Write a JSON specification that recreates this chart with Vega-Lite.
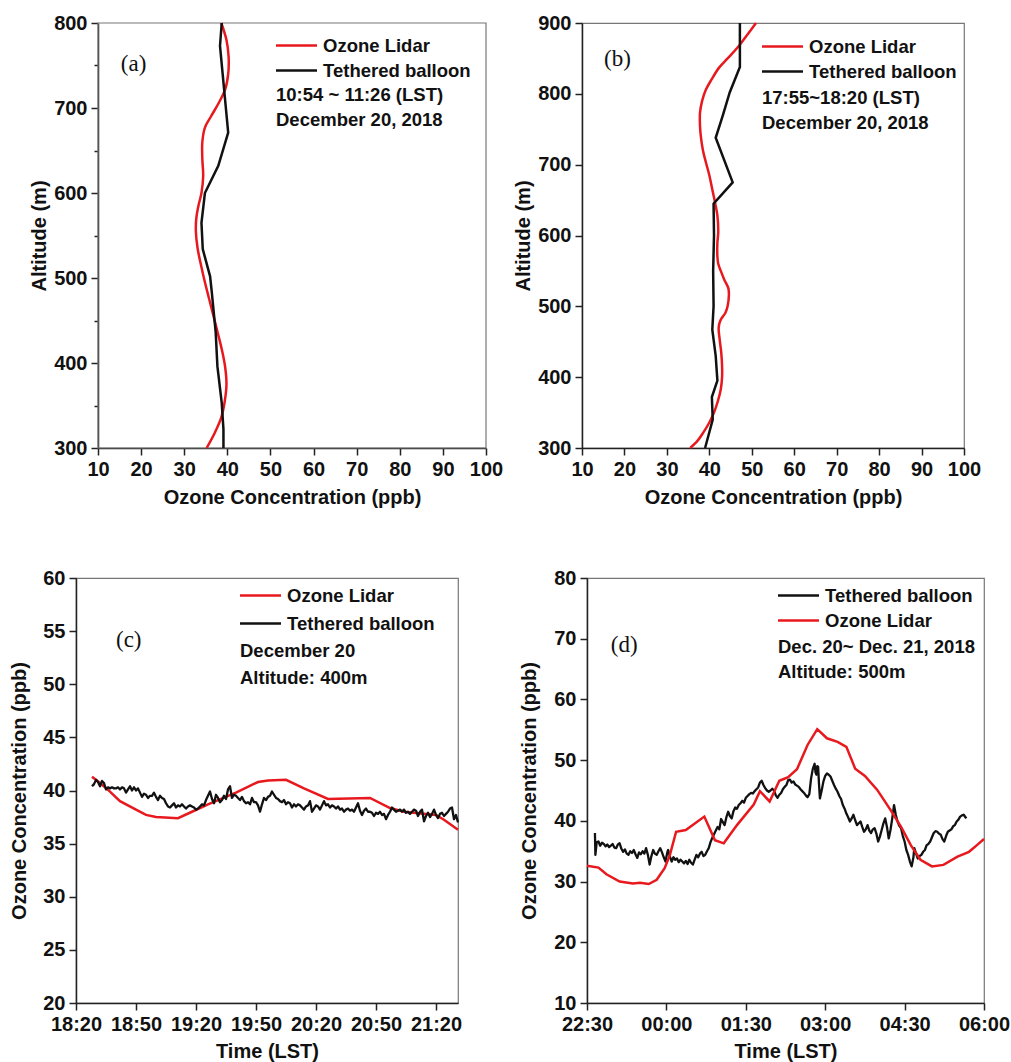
{
  "$schema": "https://vega.github.io/schema/vega-lite/v6.json",
  "background": "white",
  "padding": {"left": 9, "top": 12, "right": 2, "bottom": 2},
  "spacing": 59,
  "resolve": {"scale": {"x": "independent", "y": "independent", "color": "independent"}, "axis": {"x": "independent", "y": "independent"}, "legend": {"color": "independent"}},
  "datasets": {
    "a_lidar": [
      {"alt": 300, "o3": 35.2}, {"alt": 318, "o3": 37.1}, {"alt": 336, "o3": 38.6}, {"alt": 355, "o3": 39.4}, {"alt": 375, "o3": 39.8},
      {"alt": 395, "o3": 39.5}, {"alt": 414, "o3": 38.8}, {"alt": 435, "o3": 37.8}, {"alt": 455, "o3": 36.8}, {"alt": 475, "o3": 35.8},
      {"alt": 495, "o3": 34.8}, {"alt": 515, "o3": 33.9}, {"alt": 535, "o3": 33.1}, {"alt": 555, "o3": 32.7}, {"alt": 570, "o3": 32.8},
      {"alt": 585, "o3": 33.3}, {"alt": 600, "o3": 34.0}, {"alt": 620, "o3": 34.4}, {"alt": 640, "o3": 34.2}, {"alt": 660, "o3": 34.2},
      {"alt": 677, "o3": 34.8}, {"alt": 690, "o3": 36.2}, {"alt": 705, "o3": 37.9}, {"alt": 722, "o3": 39.5}, {"alt": 740, "o3": 40.2},
      {"alt": 760, "o3": 40.3}, {"alt": 780, "o3": 39.8}, {"alt": 800, "o3": 38.6}
    ],
    "a_balloon": [
      {"alt": 300, "o3": 39.1}, {"alt": 322, "o3": 39.1}, {"alt": 353, "o3": 38.7}, {"alt": 396, "o3": 37.7}, {"alt": 436, "o3": 37.3},
      {"alt": 483, "o3": 36.4}, {"alt": 502, "o3": 36.0}, {"alt": 534, "o3": 34.3}, {"alt": 565, "o3": 34.0}, {"alt": 600, "o3": 34.8},
      {"alt": 632, "o3": 37.9}, {"alt": 671, "o3": 40.2}, {"alt": 773, "o3": 38.3}, {"alt": 800, "o3": 38.7}
    ],
    "b_lidar": [
      {"alt": 300, "o3": 35.5}, {"alt": 310, "o3": 37.2}, {"alt": 322, "o3": 38.6}, {"alt": 336, "o3": 40.0}, {"alt": 350, "o3": 41.1},
      {"alt": 366, "o3": 42.0}, {"alt": 383, "o3": 42.7}, {"alt": 400, "o3": 43.0}, {"alt": 416, "o3": 43.0}, {"alt": 435, "o3": 42.8},
      {"alt": 455, "o3": 42.4}, {"alt": 470, "o3": 42.2}, {"alt": 480, "o3": 42.6}, {"alt": 491, "o3": 43.8}, {"alt": 500, "o3": 44.3},
      {"alt": 515, "o3": 44.6}, {"alt": 525, "o3": 44.5}, {"alt": 538, "o3": 43.5}, {"alt": 550, "o3": 42.7}, {"alt": 560, "o3": 42.1},
      {"alt": 570, "o3": 41.9}, {"alt": 590, "o3": 41.9}, {"alt": 605, "o3": 42.1}, {"alt": 628, "o3": 41.9}, {"alt": 645, "o3": 41.4},
      {"alt": 665, "o3": 40.7}, {"alt": 685, "o3": 40.0}, {"alt": 703, "o3": 39.2}, {"alt": 720, "o3": 38.5}, {"alt": 740, "o3": 38.0},
      {"alt": 755, "o3": 37.8}, {"alt": 773, "o3": 37.8}, {"alt": 790, "o3": 38.3}, {"alt": 806, "o3": 39.2}, {"alt": 820, "o3": 40.5},
      {"alt": 837, "o3": 42.3}, {"alt": 850, "o3": 44.3}, {"alt": 865, "o3": 46.6}, {"alt": 880, "o3": 48.5}, {"alt": 900, "o3": 51.0}
    ],
    "b_balloon": [
      {"alt": 300, "o3": 39.0}, {"alt": 340, "o3": 40.8}, {"alt": 372, "o3": 40.6}, {"alt": 395, "o3": 41.9}, {"alt": 430, "o3": 41.5},
      {"alt": 467, "o3": 40.7}, {"alt": 500, "o3": 41.0}, {"alt": 550, "o3": 40.9}, {"alt": 600, "o3": 41.1}, {"alt": 645, "o3": 41.0},
      {"alt": 675, "o3": 45.5}, {"alt": 738, "o3": 41.5}, {"alt": 770, "o3": 43.2}, {"alt": 802, "o3": 44.8}, {"alt": 820, "o3": 46.0},
      {"alt": 838, "o3": 47.2}, {"alt": 900, "o3": 47.2}
    ],
    "c_lidar": [
      {"time": "2018-12-20T18:28", "o3": 41.3}, {"time": "2018-12-20T18:32", "o3": 40.7}, {"time": "2018-12-20T18:37", "o3": 39.9},
      {"time": "2018-12-20T18:42", "o3": 39.0}, {"time": "2018-12-20T18:50", "o3": 38.2}, {"time": "2018-12-20T18:55", "o3": 37.7},
      {"time": "2018-12-20T19:00", "o3": 37.5}, {"time": "2018-12-20T19:11", "o3": 37.4}, {"time": "2018-12-20T19:18", "o3": 38.0},
      {"time": "2018-12-20T19:26", "o3": 38.7}, {"time": "2018-12-20T19:40", "o3": 39.8}, {"time": "2018-12-20T19:51", "o3": 40.8},
      {"time": "2018-12-20T19:56", "o3": 40.95}, {"time": "2018-12-20T20:05", "o3": 41.0}, {"time": "2018-12-20T20:14", "o3": 40.2},
      {"time": "2018-12-20T20:26", "o3": 39.2}, {"time": "2018-12-20T20:47", "o3": 39.3}, {"time": "2018-12-20T20:57", "o3": 38.35},
      {"time": "2018-12-20T21:04", "o3": 38.0}, {"time": "2018-12-20T21:20", "o3": 37.7}, {"time": "2018-12-20T21:24", "o3": 37.25},
      {"time": "2018-12-20T21:31", "o3": 36.3}
    ],
    "c_balloon": [
      {"time": "2018-12-20T18:28", "o3": 40.4}, {"time": "2018-12-20T18:29", "o3": 40.6}, {"time": "2018-12-20T18:30", "o3": 41.0},
      {"time": "2018-12-20T18:31", "o3": 40.8}, {"time": "2018-12-20T18:32", "o3": 40.4}, {"time": "2018-12-20T18:33", "o3": 40.9},
      {"time": "2018-12-20T18:34", "o3": 40.7}, {"time": "2018-12-20T18:35", "o3": 40.1}, {"time": "2018-12-20T18:36", "o3": 40.3},
      {"time": "2018-12-20T18:37", "o3": 40.2}, {"time": "2018-12-20T18:38", "o3": 40.3}, {"time": "2018-12-20T18:39", "o3": 40.2},
      {"time": "2018-12-20T18:40", "o3": 40.2}, {"time": "2018-12-20T18:41", "o3": 40.3}, {"time": "2018-12-20T18:42", "o3": 40.1},
      {"time": "2018-12-20T18:43", "o3": 40.3}, {"time": "2018-12-20T18:44", "o3": 40.2}, {"time": "2018-12-20T18:45", "o3": 39.8},
      {"time": "2018-12-20T18:46", "o3": 40.1}, {"time": "2018-12-20T18:47", "o3": 40.4}, {"time": "2018-12-20T18:48", "o3": 40.0},
      {"time": "2018-12-20T18:49", "o3": 40.3}, {"time": "2018-12-20T18:50", "o3": 40.0}, {"time": "2018-12-20T18:51", "o3": 40.2},
      {"time": "2018-12-20T18:52", "o3": 39.8}, {"time": "2018-12-20T18:53", "o3": 39.4}, {"time": "2018-12-20T18:54", "o3": 39.7},
      {"time": "2018-12-20T18:55", "o3": 39.6}, {"time": "2018-12-20T18:56", "o3": 39.3}, {"time": "2018-12-20T18:57", "o3": 39.5},
      {"time": "2018-12-20T18:58", "o3": 39.5}, {"time": "2018-12-20T18:59", "o3": 39.8}, {"time": "2018-12-20T19:00", "o3": 39.4},
      {"time": "2018-12-20T19:01", "o3": 39.1}, {"time": "2018-12-20T19:02", "o3": 39.5}, {"time": "2018-12-20T19:03", "o3": 39.3},
      {"time": "2018-12-20T19:04", "o3": 39.2}, {"time": "2018-12-20T19:05", "o3": 38.8}, {"time": "2018-12-20T19:06", "o3": 38.5},
      {"time": "2018-12-20T19:07", "o3": 38.4}, {"time": "2018-12-20T19:08", "o3": 38.6}, {"time": "2018-12-20T19:09", "o3": 38.8},
      {"time": "2018-12-20T19:10", "o3": 38.4}, {"time": "2018-12-20T19:11", "o3": 38.6}, {"time": "2018-12-20T19:12", "o3": 38.5},
      {"time": "2018-12-20T19:13", "o3": 38.7}, {"time": "2018-12-20T19:14", "o3": 38.5}, {"time": "2018-12-20T19:15", "o3": 38.3},
      {"time": "2018-12-20T19:16", "o3": 38.5}, {"time": "2018-12-20T19:17", "o3": 38.6}, {"time": "2018-12-20T19:18", "o3": 38.5},
      {"time": "2018-12-20T19:19", "o3": 38.4}, {"time": "2018-12-20T19:20", "o3": 38.2}, {"time": "2018-12-20T19:21", "o3": 38.3},
      {"time": "2018-12-20T19:22", "o3": 38.5}, {"time": "2018-12-20T19:23", "o3": 38.7}, {"time": "2018-12-20T19:24", "o3": 38.6},
      {"time": "2018-12-20T19:25", "o3": 39.1}, {"time": "2018-12-20T19:26", "o3": 39.5}, {"time": "2018-12-20T19:27", "o3": 39.9},
      {"time": "2018-12-20T19:28", "o3": 39.2}, {"time": "2018-12-20T19:29", "o3": 38.8}, {"time": "2018-12-20T19:30", "o3": 39.6},
      {"time": "2018-12-20T19:31", "o3": 39.3}, {"time": "2018-12-20T19:32", "o3": 38.9}, {"time": "2018-12-20T19:33", "o3": 39.1},
      {"time": "2018-12-20T19:34", "o3": 39.5}, {"time": "2018-12-20T19:35", "o3": 39.2}, {"time": "2018-12-20T19:36", "o3": 40.1},
      {"time": "2018-12-20T19:37", "o3": 40.4}, {"time": "2018-12-20T19:38", "o3": 39.3}, {"time": "2018-12-20T19:39", "o3": 39.6},
      {"time": "2018-12-20T19:40", "o3": 39.5}, {"time": "2018-12-20T19:41", "o3": 39.3}, {"time": "2018-12-20T19:42", "o3": 39.1},
      {"time": "2018-12-20T19:43", "o3": 39.4}, {"time": "2018-12-20T19:44", "o3": 39.0}, {"time": "2018-12-20T19:45", "o3": 38.8},
      {"time": "2018-12-20T19:46", "o3": 38.9}, {"time": "2018-12-20T19:47", "o3": 38.7}, {"time": "2018-12-20T19:48", "o3": 39.3},
      {"time": "2018-12-20T19:49", "o3": 38.9}, {"time": "2018-12-20T19:50", "o3": 38.9}, {"time": "2018-12-20T19:51", "o3": 38.6},
      {"time": "2018-12-20T19:52", "o3": 38.0}, {"time": "2018-12-20T19:53", "o3": 38.7}, {"time": "2018-12-20T19:54", "o3": 39.3},
      {"time": "2018-12-20T19:55", "o3": 39.1}, {"time": "2018-12-20T19:56", "o3": 39.4}, {"time": "2018-12-20T19:57", "o3": 39.5},
      {"time": "2018-12-20T19:58", "o3": 39.9}, {"time": "2018-12-20T19:59", "o3": 39.6}, {"time": "2018-12-20T20:00", "o3": 39.3},
      {"time": "2018-12-20T20:01", "o3": 39.2}, {"time": "2018-12-20T20:02", "o3": 39.0}, {"time": "2018-12-20T20:03", "o3": 38.9},
      {"time": "2018-12-20T20:04", "o3": 39.1}, {"time": "2018-12-20T20:05", "o3": 38.7}, {"time": "2018-12-20T20:06", "o3": 38.9},
      {"time": "2018-12-20T20:07", "o3": 38.8}, {"time": "2018-12-20T20:08", "o3": 38.4}, {"time": "2018-12-20T20:09", "o3": 38.7},
      {"time": "2018-12-20T20:10", "o3": 38.5}, {"time": "2018-12-20T20:11", "o3": 38.7}, {"time": "2018-12-20T20:12", "o3": 38.6},
      {"time": "2018-12-20T20:13", "o3": 38.4}, {"time": "2018-12-20T20:14", "o3": 38.2}, {"time": "2018-12-20T20:15", "o3": 38.5},
      {"time": "2018-12-20T20:16", "o3": 38.6}, {"time": "2018-12-20T20:17", "o3": 39.0}, {"time": "2018-12-20T20:18", "o3": 38.0},
      {"time": "2018-12-20T20:19", "o3": 38.3}, {"time": "2018-12-20T20:20", "o3": 38.6}, {"time": "2018-12-20T20:21", "o3": 38.5},
      {"time": "2018-12-20T20:22", "o3": 38.2}, {"time": "2018-12-20T20:23", "o3": 38.6}, {"time": "2018-12-20T20:24", "o3": 39.0},
      {"time": "2018-12-20T20:25", "o3": 38.6}, {"time": "2018-12-20T20:26", "o3": 38.7}, {"time": "2018-12-20T20:27", "o3": 38.4},
      {"time": "2018-12-20T20:28", "o3": 38.6}, {"time": "2018-12-20T20:29", "o3": 38.5}, {"time": "2018-12-20T20:30", "o3": 38.3},
      {"time": "2018-12-20T20:31", "o3": 38.5}, {"time": "2018-12-20T20:32", "o3": 38.2}, {"time": "2018-12-20T20:33", "o3": 38.3},
      {"time": "2018-12-20T20:34", "o3": 38.0}, {"time": "2018-12-20T20:35", "o3": 38.2}, {"time": "2018-12-20T20:36", "o3": 38.3},
      {"time": "2018-12-20T20:37", "o3": 38.1}, {"time": "2018-12-20T20:38", "o3": 38.2}, {"time": "2018-12-20T20:39", "o3": 38.0},
      {"time": "2018-12-20T20:40", "o3": 38.4}, {"time": "2018-12-20T20:41", "o3": 38.8}, {"time": "2018-12-20T20:42", "o3": 38.1},
      {"time": "2018-12-20T20:43", "o3": 37.7}, {"time": "2018-12-20T20:44", "o3": 38.1}, {"time": "2018-12-20T20:45", "o3": 38.3},
      {"time": "2018-12-20T20:46", "o3": 38.0}, {"time": "2018-12-20T20:47", "o3": 38.0}, {"time": "2018-12-20T20:48", "o3": 37.9},
      {"time": "2018-12-20T20:49", "o3": 37.6}, {"time": "2018-12-20T20:50", "o3": 37.9}, {"time": "2018-12-20T20:51", "o3": 37.8},
      {"time": "2018-12-20T20:52", "o3": 38.0}, {"time": "2018-12-20T20:53", "o3": 37.7}, {"time": "2018-12-20T20:54", "o3": 37.8},
      {"time": "2018-12-20T20:55", "o3": 37.3}, {"time": "2018-12-20T20:56", "o3": 37.7}, {"time": "2018-12-20T20:57", "o3": 38.0},
      {"time": "2018-12-20T20:58", "o3": 38.4}, {"time": "2018-12-20T20:59", "o3": 38.2}, {"time": "2018-12-20T21:00", "o3": 38.0},
      {"time": "2018-12-20T21:01", "o3": 38.1}, {"time": "2018-12-20T21:02", "o3": 38.2}, {"time": "2018-12-20T21:03", "o3": 38.0},
      {"time": "2018-12-20T21:04", "o3": 38.2}, {"time": "2018-12-20T21:05", "o3": 37.9}, {"time": "2018-12-20T21:06", "o3": 38.0},
      {"time": "2018-12-20T21:07", "o3": 37.8}, {"time": "2018-12-20T21:08", "o3": 38.0}, {"time": "2018-12-20T21:09", "o3": 38.2},
      {"time": "2018-12-20T21:10", "o3": 38.1}, {"time": "2018-12-20T21:11", "o3": 37.6}, {"time": "2018-12-20T21:12", "o3": 38.0},
      {"time": "2018-12-20T21:13", "o3": 38.2}, {"time": "2018-12-20T21:14", "o3": 37.1}, {"time": "2018-12-20T21:15", "o3": 37.6},
      {"time": "2018-12-20T21:16", "o3": 37.9}, {"time": "2018-12-20T21:17", "o3": 37.5}, {"time": "2018-12-20T21:18", "o3": 37.8},
      {"time": "2018-12-20T21:19", "o3": 38.2}, {"time": "2018-12-20T21:20", "o3": 37.7}, {"time": "2018-12-20T21:21", "o3": 37.4},
      {"time": "2018-12-20T21:22", "o3": 37.8}, {"time": "2018-12-20T21:23", "o3": 37.9}, {"time": "2018-12-20T21:24", "o3": 37.6},
      {"time": "2018-12-20T21:25", "o3": 37.8}, {"time": "2018-12-20T21:26", "o3": 38.0}, {"time": "2018-12-20T21:27", "o3": 38.3},
      {"time": "2018-12-20T21:28", "o3": 38.4}, {"time": "2018-12-20T21:29", "o3": 37.3}, {"time": "2018-12-20T21:30", "o3": 37.7},
      {"time": "2018-12-20T21:31", "o3": 37.0}
    ],
    "d_lidar": [
      {"time": "2018-12-20T22:30", "o3": 32.6}, {"time": "2018-12-20T22:43", "o3": 32.3}, {"time": "2018-12-20T22:52", "o3": 31.2},
      {"time": "2018-12-20T23:07", "o3": 30.0}, {"time": "2018-12-20T23:22", "o3": 29.7}, {"time": "2018-12-20T23:30", "o3": 29.8},
      {"time": "2018-12-20T23:40", "o3": 29.6}, {"time": "2018-12-20T23:49", "o3": 30.3}, {"time": "2018-12-20T23:58", "o3": 32.2},
      {"time": "2018-12-21T00:04", "o3": 34.4}, {"time": "2018-12-21T00:11", "o3": 38.2}, {"time": "2018-12-21T00:22", "o3": 38.5},
      {"time": "2018-12-21T00:43", "o3": 40.7}, {"time": "2018-12-21T00:55", "o3": 36.8}, {"time": "2018-12-21T01:05", "o3": 36.3},
      {"time": "2018-12-21T01:20", "o3": 39.3}, {"time": "2018-12-21T01:39", "o3": 42.7}, {"time": "2018-12-21T01:46", "o3": 44.9},
      {"time": "2018-12-21T01:57", "o3": 43.2}, {"time": "2018-12-21T02:08", "o3": 46.6}, {"time": "2018-12-21T02:18", "o3": 47.2},
      {"time": "2018-12-21T02:28", "o3": 48.5}, {"time": "2018-12-21T02:40", "o3": 52.5}, {"time": "2018-12-21T02:51", "o3": 55.1},
      {"time": "2018-12-21T03:02", "o3": 53.6}, {"time": "2018-12-21T03:14", "o3": 53.0}, {"time": "2018-12-21T03:24", "o3": 52.2},
      {"time": "2018-12-21T03:34", "o3": 48.6}, {"time": "2018-12-21T03:45", "o3": 47.4}, {"time": "2018-12-21T03:59", "o3": 45.1},
      {"time": "2018-12-21T04:14", "o3": 41.8}, {"time": "2018-12-21T04:26", "o3": 39.0}, {"time": "2018-12-21T04:37", "o3": 36.0},
      {"time": "2018-12-21T04:48", "o3": 33.6}, {"time": "2018-12-21T05:01", "o3": 32.5}, {"time": "2018-12-21T05:14", "o3": 32.75},
      {"time": "2018-12-21T05:30", "o3": 34.1}, {"time": "2018-12-21T05:43", "o3": 34.9}, {"time": "2018-12-21T05:52", "o3": 36.0},
      {"time": "2018-12-21T06:00", "o3": 37.0}
    ],
    "d_balloon": [
      {"time": "2018-12-20T22:39:00", "o3": 38.0}, {"time": "2018-12-20T22:39:30", "o3": 34.4}, {"time": "2018-12-20T22:41", "o3": 36.5},
      {"time": "2018-12-20T22:43", "o3": 36.6}, {"time": "2018-12-20T22:45", "o3": 35.9}, {"time": "2018-12-20T22:47", "o3": 36.4},
      {"time": "2018-12-20T22:49", "o3": 36.2}, {"time": "2018-12-20T22:51", "o3": 35.8}, {"time": "2018-12-20T22:53", "o3": 36.1},
      {"time": "2018-12-20T22:55", "o3": 35.7}, {"time": "2018-12-20T22:57", "o3": 35.9}, {"time": "2018-12-20T22:59", "o3": 36.2},
      {"time": "2018-12-20T23:01", "o3": 35.6}, {"time": "2018-12-20T23:03", "o3": 35.5}, {"time": "2018-12-20T23:05", "o3": 36.1},
      {"time": "2018-12-20T23:07", "o3": 36.3}, {"time": "2018-12-20T23:09", "o3": 35.4}, {"time": "2018-12-20T23:11", "o3": 34.9},
      {"time": "2018-12-20T23:13", "o3": 35.3}, {"time": "2018-12-20T23:15", "o3": 34.6}, {"time": "2018-12-20T23:17", "o3": 34.4},
      {"time": "2018-12-20T23:19", "o3": 35.0}, {"time": "2018-12-20T23:21", "o3": 34.7}, {"time": "2018-12-20T23:23", "o3": 35.2},
      {"time": "2018-12-20T23:25", "o3": 34.5}, {"time": "2018-12-20T23:27", "o3": 33.9}, {"time": "2018-12-20T23:29", "o3": 34.8},
      {"time": "2018-12-20T23:31", "o3": 34.5}, {"time": "2018-12-20T23:33", "o3": 35.0}, {"time": "2018-12-20T23:35", "o3": 34.6},
      {"time": "2018-12-20T23:37", "o3": 35.5}, {"time": "2018-12-20T23:39", "o3": 34.4}, {"time": "2018-12-20T23:41", "o3": 32.8},
      {"time": "2018-12-20T23:43", "o3": 34.2}, {"time": "2018-12-20T23:45", "o3": 35.2}, {"time": "2018-12-20T23:47", "o3": 34.6},
      {"time": "2018-12-20T23:49", "o3": 34.4}, {"time": "2018-12-20T23:51", "o3": 35.0}, {"time": "2018-12-20T23:53", "o3": 35.5},
      {"time": "2018-12-20T23:55", "o3": 34.8}, {"time": "2018-12-20T23:57", "o3": 34.0}, {"time": "2018-12-20T23:59", "o3": 33.3},
      {"time": "2018-12-21T00:01", "o3": 34.8}, {"time": "2018-12-21T00:02", "o3": 35.2}, {"time": "2018-12-21T00:04", "o3": 34.1},
      {"time": "2018-12-21T00:06", "o3": 33.3}, {"time": "2018-12-21T00:08", "o3": 34.0}, {"time": "2018-12-21T00:10", "o3": 33.6},
      {"time": "2018-12-21T00:12", "o3": 33.8}, {"time": "2018-12-21T00:14", "o3": 33.2}, {"time": "2018-12-21T00:16", "o3": 33.6},
      {"time": "2018-12-21T00:18", "o3": 33.3}, {"time": "2018-12-21T00:20", "o3": 33.0}, {"time": "2018-12-21T00:22", "o3": 33.4},
      {"time": "2018-12-21T00:24", "o3": 32.9}, {"time": "2018-12-21T00:26", "o3": 33.6}, {"time": "2018-12-21T00:28", "o3": 33.1},
      {"time": "2018-12-21T00:30", "o3": 32.8}, {"time": "2018-12-21T00:32", "o3": 33.6}, {"time": "2018-12-21T00:34", "o3": 34.4},
      {"time": "2018-12-21T00:36", "o3": 34.0}, {"time": "2018-12-21T00:38", "o3": 34.6}, {"time": "2018-12-21T00:40", "o3": 34.9},
      {"time": "2018-12-21T00:42", "o3": 34.2}, {"time": "2018-12-21T00:44", "o3": 34.4}, {"time": "2018-12-21T00:46", "o3": 35.0},
      {"time": "2018-12-21T00:48", "o3": 35.5}, {"time": "2018-12-21T00:50", "o3": 36.5}, {"time": "2018-12-21T00:52", "o3": 37.2},
      {"time": "2018-12-21T00:54", "o3": 37.8}, {"time": "2018-12-21T00:56", "o3": 38.4}, {"time": "2018-12-21T00:58", "o3": 39.0},
      {"time": "2018-12-21T01:00", "o3": 38.6}, {"time": "2018-12-21T01:02", "o3": 40.3}, {"time": "2018-12-21T01:04", "o3": 39.8},
      {"time": "2018-12-21T01:06", "o3": 39.3}, {"time": "2018-12-21T01:08", "o3": 40.6}, {"time": "2018-12-21T01:10", "o3": 41.5},
      {"time": "2018-12-21T01:12", "o3": 40.8}, {"time": "2018-12-21T01:14", "o3": 40.4}, {"time": "2018-12-21T01:16", "o3": 41.6},
      {"time": "2018-12-21T01:18", "o3": 42.2}, {"time": "2018-12-21T01:20", "o3": 42.0}, {"time": "2018-12-21T01:22", "o3": 42.6},
      {"time": "2018-12-21T01:24", "o3": 42.9}, {"time": "2018-12-21T01:26", "o3": 43.3}, {"time": "2018-12-21T01:28", "o3": 43.0},
      {"time": "2018-12-21T01:30", "o3": 43.8}, {"time": "2018-12-21T01:32", "o3": 44.1}, {"time": "2018-12-21T01:34", "o3": 44.4},
      {"time": "2018-12-21T01:36", "o3": 44.6}, {"time": "2018-12-21T01:38", "o3": 44.5}, {"time": "2018-12-21T01:40", "o3": 44.9},
      {"time": "2018-12-21T01:42", "o3": 45.2}, {"time": "2018-12-21T01:44", "o3": 45.5}, {"time": "2018-12-21T01:46", "o3": 46.3},
      {"time": "2018-12-21T01:48", "o3": 46.6}, {"time": "2018-12-21T01:50", "o3": 45.9}, {"time": "2018-12-21T01:52", "o3": 45.4},
      {"time": "2018-12-21T01:54", "o3": 45.0}, {"time": "2018-12-21T01:56", "o3": 44.8}, {"time": "2018-12-21T01:58", "o3": 45.0},
      {"time": "2018-12-21T02:00", "o3": 45.3}, {"time": "2018-12-21T02:02", "o3": 45.0}, {"time": "2018-12-21T02:04", "o3": 44.2},
      {"time": "2018-12-21T02:06", "o3": 43.8}, {"time": "2018-12-21T02:08", "o3": 44.3}, {"time": "2018-12-21T02:10", "o3": 44.6},
      {"time": "2018-12-21T02:12", "o3": 45.2}, {"time": "2018-12-21T02:14", "o3": 45.6}, {"time": "2018-12-21T02:16", "o3": 45.9},
      {"time": "2018-12-21T02:18", "o3": 46.7}, {"time": "2018-12-21T02:20", "o3": 46.8}, {"time": "2018-12-21T02:22", "o3": 46.3},
      {"time": "2018-12-21T02:24", "o3": 46.5}, {"time": "2018-12-21T02:26", "o3": 46.0}, {"time": "2018-12-21T02:28", "o3": 45.8},
      {"time": "2018-12-21T02:30", "o3": 45.6}, {"time": "2018-12-21T02:32", "o3": 45.2}, {"time": "2018-12-21T02:34", "o3": 44.9},
      {"time": "2018-12-21T02:36", "o3": 44.6}, {"time": "2018-12-21T02:38", "o3": 44.2}, {"time": "2018-12-21T02:40", "o3": 43.9},
      {"time": "2018-12-21T02:42", "o3": 44.4}, {"time": "2018-12-21T02:44", "o3": 47.0}, {"time": "2018-12-21T02:46", "o3": 48.6},
      {"time": "2018-12-21T02:48", "o3": 49.4}, {"time": "2018-12-21T02:49", "o3": 48.0}, {"time": "2018-12-21T02:50", "o3": 47.6},
      {"time": "2018-12-21T02:51", "o3": 49.0}, {"time": "2018-12-21T02:52", "o3": 48.9}, {"time": "2018-12-21T02:53", "o3": 46.0},
      {"time": "2018-12-21T02:54", "o3": 43.7}, {"time": "2018-12-21T02:56", "o3": 45.0}, {"time": "2018-12-21T02:58", "o3": 46.5},
      {"time": "2018-12-21T03:00", "o3": 47.4}, {"time": "2018-12-21T03:02", "o3": 47.8}, {"time": "2018-12-21T03:04", "o3": 47.6},
      {"time": "2018-12-21T03:06", "o3": 47.3}, {"time": "2018-12-21T03:08", "o3": 46.6}, {"time": "2018-12-21T03:10", "o3": 45.9},
      {"time": "2018-12-21T03:12", "o3": 45.3}, {"time": "2018-12-21T03:14", "o3": 44.8}, {"time": "2018-12-21T03:16", "o3": 44.1},
      {"time": "2018-12-21T03:18", "o3": 43.6}, {"time": "2018-12-21T03:20", "o3": 42.6}, {"time": "2018-12-21T03:22", "o3": 42.0},
      {"time": "2018-12-21T03:24", "o3": 41.2}, {"time": "2018-12-21T03:26", "o3": 40.6}, {"time": "2018-12-21T03:28", "o3": 39.9},
      {"time": "2018-12-21T03:30", "o3": 40.4}, {"time": "2018-12-21T03:32", "o3": 41.0}, {"time": "2018-12-21T03:34", "o3": 40.1},
      {"time": "2018-12-21T03:36", "o3": 39.3}, {"time": "2018-12-21T03:38", "o3": 39.6}, {"time": "2018-12-21T03:40", "o3": 39.9},
      {"time": "2018-12-21T03:42", "o3": 39.0}, {"time": "2018-12-21T03:44", "o3": 38.2}, {"time": "2018-12-21T03:46", "o3": 38.6},
      {"time": "2018-12-21T03:48", "o3": 39.3}, {"time": "2018-12-21T03:50", "o3": 38.4}, {"time": "2018-12-21T03:52", "o3": 38.0},
      {"time": "2018-12-21T03:54", "o3": 38.6}, {"time": "2018-12-21T03:56", "o3": 38.8}, {"time": "2018-12-21T03:58", "o3": 37.9},
      {"time": "2018-12-21T04:00", "o3": 36.6}, {"time": "2018-12-21T04:02", "o3": 37.4}, {"time": "2018-12-21T04:04", "o3": 38.5},
      {"time": "2018-12-21T04:06", "o3": 39.6}, {"time": "2018-12-21T04:08", "o3": 40.4}, {"time": "2018-12-21T04:10", "o3": 39.0},
      {"time": "2018-12-21T04:12", "o3": 37.1}, {"time": "2018-12-21T04:14", "o3": 38.5}, {"time": "2018-12-21T04:16", "o3": 40.4},
      {"time": "2018-12-21T04:18", "o3": 42.6}, {"time": "2018-12-21T04:20", "o3": 41.0}, {"time": "2018-12-21T04:22", "o3": 39.9},
      {"time": "2018-12-21T04:24", "o3": 39.2}, {"time": "2018-12-21T04:26", "o3": 38.8}, {"time": "2018-12-21T04:28", "o3": 37.5},
      {"time": "2018-12-21T04:30", "o3": 36.6}, {"time": "2018-12-21T04:32", "o3": 35.2}, {"time": "2018-12-21T04:34", "o3": 34.4},
      {"time": "2018-12-21T04:36", "o3": 33.3}, {"time": "2018-12-21T04:38", "o3": 32.5}, {"time": "2018-12-21T04:40", "o3": 34.0},
      {"time": "2018-12-21T04:41", "o3": 35.5}, {"time": "2018-12-21T04:43", "o3": 34.6}, {"time": "2018-12-21T04:45", "o3": 33.8},
      {"time": "2018-12-21T04:47", "o3": 34.2}, {"time": "2018-12-21T04:49", "o3": 34.4}, {"time": "2018-12-21T04:51", "o3": 34.9},
      {"time": "2018-12-21T04:53", "o3": 35.2}, {"time": "2018-12-21T04:55", "o3": 36.0}, {"time": "2018-12-21T04:57", "o3": 36.2},
      {"time": "2018-12-21T04:59", "o3": 36.6}, {"time": "2018-12-21T05:01", "o3": 37.3}, {"time": "2018-12-21T05:03", "o3": 38.0},
      {"time": "2018-12-21T05:05", "o3": 38.3}, {"time": "2018-12-21T05:07", "o3": 38.2}, {"time": "2018-12-21T05:09", "o3": 37.9},
      {"time": "2018-12-21T05:11", "o3": 37.7}, {"time": "2018-12-21T05:13", "o3": 37.0}, {"time": "2018-12-21T05:15", "o3": 36.6},
      {"time": "2018-12-21T05:17", "o3": 37.5}, {"time": "2018-12-21T05:19", "o3": 38.2}, {"time": "2018-12-21T05:21", "o3": 38.4},
      {"time": "2018-12-21T05:23", "o3": 38.6}, {"time": "2018-12-21T05:25", "o3": 39.1}, {"time": "2018-12-21T05:27", "o3": 39.3},
      {"time": "2018-12-21T05:29", "o3": 39.9}, {"time": "2018-12-21T05:31", "o3": 40.2}, {"time": "2018-12-21T05:33", "o3": 40.7},
      {"time": "2018-12-21T05:35", "o3": 40.9}, {"time": "2018-12-21T05:37", "o3": 41.0}, {"time": "2018-12-21T05:39", "o3": 40.6},
      {"time": "2018-12-21T05:40", "o3": 40.4}
    ]
  },
  "vconcat": [
    {
      "spacing": 10,
      "resolve": {"scale": {"x": "independent", "y": "independent", "color": "independent"}, "axis": {"x": "independent", "y": "independent"}, "legend": {"color": "independent"}},
      "hconcat": [
        {
          "width": 410, "height": 425,
          "view": {"stroke": null},
          "layer": [
            {
              "data": {"values": [{}]},
              "mark": {"type": "rect", "fillOpacity": 0, "stroke": "#777777", "strokeWidth": 1.2},
              "encoding": {
                "x": {"datum": 10, "type": "quantitative", "title": "Ozone Concentration (ppb)",
                      "scale": {"domain": [10, 100], "range": [22, 410], "nice": false},
                      "axis": {"values": [10,15,20,25,30,35,40,45,50,55,60,65,70,75,80,85,90,95,100], "labelExpr": "datum.value % 10 === 0 ? datum.label : ''", "tickSize": {"condition": {"test": "datum.value % 10 === 0", "value": 7}, "value": 4}, "titlePadding": 8}},
                "x2": {"datum": 100},
                "y": {"datum": 300, "type": "quantitative", "title": "Altitude (m)",
                      "scale": {"domain": [300, 800], "nice": false},
                      "axis": {"offset": -22, "values": [300,350,400,450,500,550,600,650,700,750,800], "labelExpr": "datum.value % 100 === 0 ? datum.label : ''", "tickSize": {"condition": {"test": "datum.value % 100 === 0", "value": 7}, "value": 4}, "titlePadding": 4}},
                "y2": {"datum": 800}
              }
            },
            {
              "data": {"name": "a_lidar"},
              "mark": {"type": "line", "interpolate": "catmull-rom", "strokeWidth": 2.5},
              "encoding": {
                "x": {"field": "o3", "type": "quantitative", "title": "Ozone Concentration (ppb)"},
                "y": {"field": "alt", "type": "quantitative", "title": "Altitude (m)"},
                "order": {"field": "alt", "type": "quantitative"},
                "color": {"datum": "Ozone Lidar",
                          "scale": {"domain": ["Ozone Lidar", "Tethered balloon"], "range": ["#e8191e", "#111111"]},
                          "legend": {"orient": "none", "legendX": 200, "legendY": 11, "rowPadding": 4, "titleLineHeight": 25, "titlePadding": 6,
                                     "title": [" 10:54 ~ 11:26 (LST)", "December 20, 2018"]}}
              }
            },
            {
              "data": {"name": "a_balloon"},
              "mark": {"type": "line", "strokeWidth": 2.5},
              "encoding": {
                "x": {"field": "o3", "type": "quantitative", "title": "Ozone Concentration (ppb)"},
                "y": {"field": "alt", "type": "quantitative", "title": "Altitude (m)"},
                "order": {"field": "alt", "type": "quantitative"},
                "color": {"datum": "Tethered balloon"}
              }
            },
            {
              "data": {"values": [{}]},
              "mark": {"type": "text", "text": "(a)", "font": "Liberation Serif", "fontSize": 23, "align": "left", "baseline": "middle", "color": "#111"},
              "encoding": {"x": {"datum": 15.3}, "y": {"datum": 752}}
            }
          ]
        },
        {
          "width": 382, "height": 425,
          "layer": [
            {
              "data": {"name": "b_lidar"},
              "mark": {"type": "line", "interpolate": "catmull-rom", "strokeWidth": 2.5},
              "encoding": {
                "x": {"field": "o3", "type": "quantitative", "title": "Ozone Concentration (ppb)",
                      "scale": {"domain": [10, 100], "nice": false},
                      "axis": {"values": [10,15,20,25,30,35,40,45,50,55,60,65,70,75,80,85,90,95,100], "labelExpr": "datum.value % 10 === 0 ? datum.label : ''", "tickSize": {"condition": {"test": "datum.value % 10 === 0", "value": 7}, "value": 4}, "titlePadding": 8}},
                "y": {"field": "alt", "type": "quantitative", "title": "Altitude (m)",
                      "scale": {"domain": [300, 900], "nice": false},
                      "axis": {"values": [300,350,400,450,500,550,600,650,700,750,800,850,900], "labelExpr": "datum.value % 100 === 0 ? datum.label : ''", "tickSize": {"condition": {"test": "datum.value % 100 === 0", "value": 7}, "value": 4}, "titlePadding": 4}},
                "order": {"field": "alt", "type": "quantitative"},
                "color": {"datum": "Ozone Lidar",
                          "scale": {"domain": ["Ozone Lidar", "Tethered balloon"], "range": ["#e8191e", "#111111"]},
                          "legend": {"orient": "none", "legendX": 180, "legendY": 12, "rowPadding": 4, "titleLineHeight": 25, "titlePadding": 8,
                                     "title": [" 17:55~18:20 (LST)", "December 20, 2018"]}}
              }
            },
            {
              "data": {"name": "b_balloon"},
              "mark": {"type": "line", "strokeWidth": 2.5},
              "encoding": {
                "x": {"field": "o3", "type": "quantitative", "title": "Ozone Concentration (ppb)"},
                "y": {"field": "alt", "type": "quantitative", "title": "Altitude (m)"},
                "order": {"field": "alt", "type": "quantitative"},
                "color": {"datum": "Tethered balloon"}
              }
            },
            {
              "data": {"values": [{}]},
              "mark": {"type": "text", "text": "(b)", "font": "Liberation Serif", "fontSize": 23, "align": "left", "baseline": "middle", "color": "#111"},
              "encoding": {"x": {"datum": 15.2}, "y": {"datum": 849}}
            }
          ]
        }
      ]
    },
    {
      "spacing": 55,
      "resolve": {"scale": {"x": "independent", "y": "independent", "color": "independent"}, "axis": {"x": "independent", "y": "independent"}, "legend": {"color": "independent"}},
      "hconcat": [
        {
          "width": 382, "height": 425,
          "layer": [
            {
              "data": {"name": "c_lidar"},
              "mark": {"type": "line", "strokeWidth": 2.5},
              "encoding": {
                "x": {"field": "time", "type": "temporal", "title": "Time (LST)",
                      "scale": {"domain": [{"year": 2018, "month": 12, "date": 20, "hours": 18, "minutes": 20}, {"year": 2018, "month": 12, "date": 20, "hours": 21, "minutes": 31}], "nice": false},
                      "axis": {"format": "%H:%M",
                               "values": [
                                 {"year": 2018, "month": 12, "date": 20, "hours": 18, "minutes": 20}, {"year": 2018, "month": 12, "date": 20, "hours": 18, "minutes": 35},
                                 {"year": 2018, "month": 12, "date": 20, "hours": 18, "minutes": 50}, {"year": 2018, "month": 12, "date": 20, "hours": 19, "minutes": 5},
                                 {"year": 2018, "month": 12, "date": 20, "hours": 19, "minutes": 20}, {"year": 2018, "month": 12, "date": 20, "hours": 19, "minutes": 35},
                                 {"year": 2018, "month": 12, "date": 20, "hours": 19, "minutes": 50}, {"year": 2018, "month": 12, "date": 20, "hours": 20, "minutes": 5},
                                 {"year": 2018, "month": 12, "date": 20, "hours": 20, "minutes": 20}, {"year": 2018, "month": 12, "date": 20, "hours": 20, "minutes": 35},
                                 {"year": 2018, "month": 12, "date": 20, "hours": 20, "minutes": 50}, {"year": 2018, "month": 12, "date": 20, "hours": 21, "minutes": 5},
                                 {"year": 2018, "month": 12, "date": 20, "hours": 21, "minutes": 20}],
                               "labelExpr": "(hours(datum.value)*60 + minutes(datum.value)) % 30 === 20 ? datum.label : ''",
                               "tickSize": {"condition": {"test": "(hours(datum.value)*60 + minutes(datum.value)) % 30 === 20", "value": 7}, "value": 4},
                               "titlePadding": 7}},
                "y": {"field": "o3", "type": "quantitative", "title": "Ozone Concentration (ppb)",
                      "scale": {"domain": [20, 60], "nice": false},
                      "axis": {"values": [20,22.5,25,27.5,30,32.5,35,37.5,40,42.5,45,47.5,50,52.5,55,57.5,60], "labelExpr": "datum.value % 5 === 0 ? datum.label : ''", "tickSize": {"condition": {"test": "datum.value % 5 === 0", "value": 7}, "value": 4}, "titlePadding": 13}},
                "color": {"datum": "Ozone Lidar",
                          "scale": {"domain": ["Ozone Lidar", "Tethered balloon"], "range": ["#e8191e", "#111111"]},
                          "legend": {"orient": "none", "legendX": 164, "legendY": 6, "rowPadding": 7, "titleLineHeight": 27, "titlePadding": 9,
                                     "title": ["December 20", "Altitude: 400m"]}}
              }
            },
            {
              "data": {"name": "c_balloon"},
              "mark": {"type": "line", "strokeWidth": 2.3, "strokeJoin": "round"},
              "encoding": {
                "x": {"field": "time", "type": "temporal", "title": "Time (LST)"},
                "y": {"field": "o3", "type": "quantitative", "title": "Ozone Concentration (ppb)"},
                "color": {"datum": "Tethered balloon"}
              }
            },
            {
              "data": {"values": [{}]},
              "mark": {"type": "text", "text": "(c)", "font": "Liberation Serif", "fontSize": 23, "align": "left", "baseline": "middle", "color": "#111"},
              "encoding": {"x": {"datum": {"year": 2018, "month": 12, "date": 20, "hours": 18, "minutes": 40}, "type": "temporal"}, "y": {"datum": 54.2}}
            }
          ]
        },
        {
          "width": 397, "height": 425,
          "layer": [
            {
              "data": {"name": "d_balloon"},
              "mark": {"type": "line", "strokeWidth": 2.3, "strokeJoin": "round"},
              "encoding": {
                "x": {"field": "time", "type": "temporal", "title": "Time (LST)",
                      "scale": {"domain": [{"year": 2018, "month": 12, "date": 20, "hours": 22, "minutes": 30}, {"year": 2018, "month": 12, "date": 21, "hours": 6, "minutes": 0}], "nice": false},
                      "axis": {"format": "%H:%M",
                               "values": [
                                 {"year": 2018, "month": 12, "date": 20, "hours": 22, "minutes": 30}, {"year": 2018, "month": 12, "date": 20, "hours": 23, "minutes": 15},
                                 {"year": 2018, "month": 12, "date": 21, "hours": 0, "minutes": 0}, {"year": 2018, "month": 12, "date": 21, "hours": 0, "minutes": 45},
                                 {"year": 2018, "month": 12, "date": 21, "hours": 1, "minutes": 30}, {"year": 2018, "month": 12, "date": 21, "hours": 2, "minutes": 15},
                                 {"year": 2018, "month": 12, "date": 21, "hours": 3, "minutes": 0}, {"year": 2018, "month": 12, "date": 21, "hours": 3, "minutes": 45},
                                 {"year": 2018, "month": 12, "date": 21, "hours": 4, "minutes": 30}, {"year": 2018, "month": 12, "date": 21, "hours": 5, "minutes": 15},
                                 {"year": 2018, "month": 12, "date": 21, "hours": 6, "minutes": 0}],
                               "labelExpr": "(hours(datum.value)*60 + minutes(datum.value)) % 90 === 0 ? datum.label : ''",
                               "tickSize": {"condition": {"test": "(hours(datum.value)*60 + minutes(datum.value)) % 90 === 0", "value": 7}, "value": 4},
                               "titlePadding": 7}},
                "y": {"field": "o3", "type": "quantitative", "title": "Ozone Concentration (ppb)",
                      "scale": {"domain": [10, 80], "nice": false},
                      "axis": {"values": [10,15,20,25,30,35,40,45,50,55,60,65,70,75,80], "labelExpr": "datum.value % 10 === 0 ? datum.label : ''", "tickSize": {"condition": {"test": "datum.value % 10 === 0", "value": 7}, "value": 4}, "titlePadding": 14}},
                "color": {"datum": "Tethered balloon",
                          "scale": {"domain": ["Tethered balloon", "Ozone Lidar"], "range": ["#111111", "#e8191e"]},
                          "legend": {"orient": "none", "legendX": 191, "legendY": 6, "rowPadding": 4, "titleLineHeight": 24.5, "titlePadding": 8,
                                     "title": ["Dec. 20~ Dec. 21, 2018", "Altitude: 500m"]}}
              }
            },
            {
              "data": {"name": "d_lidar"},
              "mark": {"type": "line", "strokeWidth": 2.5},
              "encoding": {
                "x": {"field": "time", "type": "temporal", "title": "Time (LST)"},
                "y": {"field": "o3", "type": "quantitative", "title": "Ozone Concentration (ppb)"},
                "color": {"datum": "Ozone Lidar"}
              }
            },
            {
              "data": {"values": [{}]},
              "mark": {"type": "text", "text": "(d)", "font": "Liberation Serif", "fontSize": 23, "align": "left", "baseline": "middle", "color": "#111"},
              "encoding": {"x": {"datum": {"year": 2018, "month": 12, "date": 20, "hours": 22, "minutes": 57}, "type": "temporal"}, "y": {"datum": 68.9}}
            }
          ]
        }
      ]
    }
  ],
  "config": {
    "font": "Liberation Sans",
    "view": {"stroke": "#777777", "strokeWidth": 1.2},
    "axis": {
      "labelFont": "Liberation Sans", "labelFontSize": 20, "labelFontWeight": "bold", "labelColor": "#111",
      "titleFont": "Liberation Sans", "titleFontSize": 20, "titleFontWeight": "bold", "titleColor": "#111",
      "domainColor": "#222", "domainWidth": 1.5, "tickColor": "#222", "tickWidth": 1.5,
      "grid": false, "labelPadding": 4, "labelOverlap": false, "labelFlush": false
    },
    "legend": {
      "symbolType": "M-2,0H2", "symbolSize": 420, "symbolStrokeWidth": 2.5, "symbolOffset": 9,
      "labelFont": "Liberation Sans", "labelFontSize": 18.5, "labelFontWeight": "bold", "labelColor": "#111", "labelOffset": 15,
      "titleFont": "Liberation Sans", "titleFontSize": 18.5, "titleFontWeight": "bold", "titleColor": "#111",
      "titleOrient": "bottom", "titleAlign": "left", "titleAnchor": "start", "padding": 0, "titleLimit": 400, "labelLimit": 300
    }
  }
}
